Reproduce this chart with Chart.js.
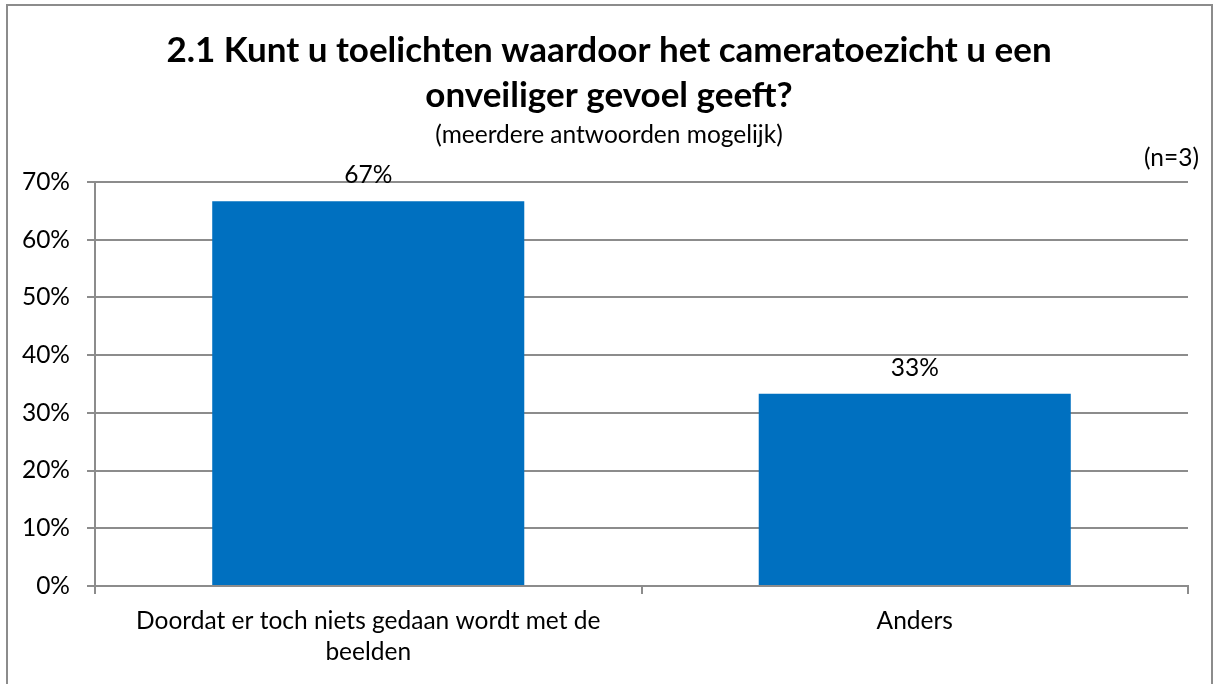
<!DOCTYPE html>
<html>
<head>
<meta charset="utf-8">
<script src="https://cdn.jsdelivr.net/npm/chart.js@4/dist/chart.umd.min.js"></script>
<style>
  html, body { margin: 0; padding: 0; background: #fff; }
  #wrap { position: relative; width: 1213px; height: 684px; overflow: hidden; }
  #frame { position: absolute; left: 6px; top: 4px; width: 1203px; height: 700px; border: 2px solid #8c8c8c; pointer-events: none; }
</style>
</head>
<body>
<div id="wrap">
  <canvas id="chart" width="1213" height="684"></canvas>
  <div id="frame"></div>
</div>
<script>
// data
const categories = [['Doordat er toch niets gedaan wordt met de', 'beelden'], 'Anders'];
const percentages = [66.67, 33.33];
const valueLabels = ['67%', '33%'];
const titleLines = ['2.1 Kunt u toelichten waardoor het cameratoezicht u een', 'onveiliger gevoel geeft?'];
const subtitleText = '(meerdere antwoorden mogelijk)';
const sampleNote = '(n=3)';

const fontFam = "Lato, sans-serif";
const textSize = 24.5;
const gridGrey = '#8c8c8c';

// titel iets naar rechts, midden van het kader
const shiftTitles = {
    id: 'shiftTitles',
    afterLayout(chart) {
        chart.boxes.forEach(function (b) {
            if (b.position === 'top' && b.options && 'text' in b.options) {
                b.left += 30;
            }
        });
    }
};

// labels boven de balken + (n=3)
const extraText = {
    id: 'extraText',
    afterDatasetsDraw(chart) {
        const ctx = chart.ctx;
        const meta = chart.getDatasetMeta(0);
        ctx.save();
        ctx.fillStyle = '#000';
        ctx.font = textSize + 'px ' + fontFam;
        ctx.textAlign = 'center';
        ctx.textBaseline = 'middle';
        meta.data.forEach(function (bar, i) {
            ctx.fillText(valueLabels[i], bar.x, bar.y - 26);
        });
        ctx.textAlign = 'right';
        ctx.fillText(sampleNote, chart.chartArea.right + 11, chart.chartArea.top - 24);
        ctx.restore();
    }
};

new Chart(document.getElementById('chart'), {
    type: 'bar',
    data: {
        labels: categories,
        datasets: [{
            data: percentages,
            backgroundColor: '#0070c0',
            borderWidth: 0,
            categoryPercentage: 1,
            barPercentage: 0.571
        }]
    },
    options: {
        responsive: false,
        animation: false,
        layout: { padding: { left: 0, right: 25, top: 0, bottom: 0 } },
        plugins: {
            legend: { display: false },
            tooltip: { enabled: false },
            title: {
                display: true,
                text: titleLines,
                color: '#000',
                font: { family: fontFam, size: 35, weight: 'bold', lineHeight: '45px' },
                padding: { top: 28, bottom: 4 }
            },
            subtitle: {
                display: true,
                text: subtitleText,
                color: '#000',
                font: { family: fontFam, size: textSize, lineHeight: '26px' },
                padding: { top: 0, bottom: 34 }
            }
        },
        scales: {
            x: {
                grid: { display: true, drawOnChartArea: false, color: gridGrey, lineWidth: 2, tickLength: 8, offset: true },
                border: { display: true, color: gridGrey, width: 2 },
                ticks: {
                    color: '#000',
                    font: { family: fontFam, size: textSize, lineHeight: '31px' },
                    padding: 12,
                    maxRotation: 0
                },
                afterFit: function (scale) { scale.height = 98; }
            },
            y: {
                min: 0,
                max: 70,
                grid: { color: gridGrey, lineWidth: 2, tickLength: 8 },
                border: { display: true, color: gridGrey, width: 2 },
                ticks: {
                    stepSize: 10,
                    color: '#000',
                    font: { family: fontFam, size: textSize },
                    padding: 17,
                    callback: function (v) { return v + '%'; }
                },
                afterFit: function (scale) { scale.width = 95; }
            }
        }
    },
    plugins: [shiftTitles, extraText]
});
</script>
</body>
</html>
